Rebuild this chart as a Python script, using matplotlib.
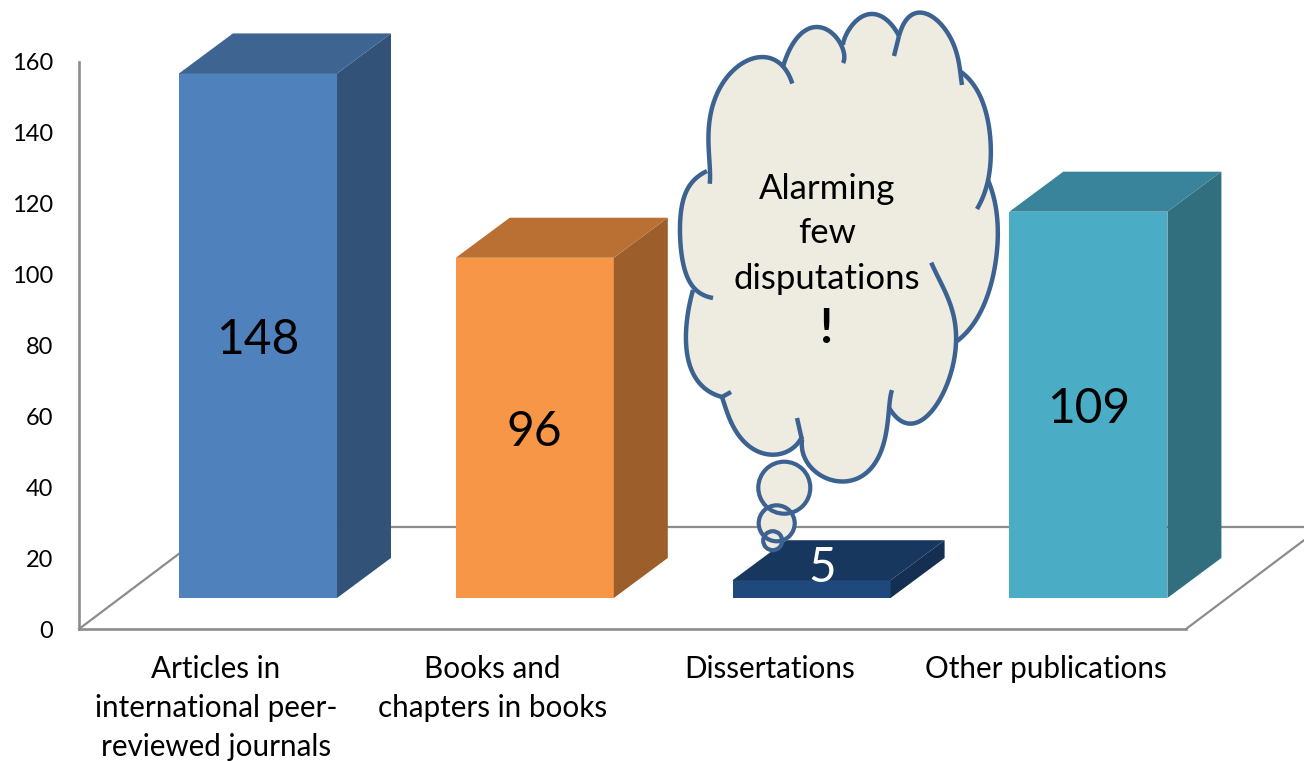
import numpy as np
import matplotlib
matplotlib.use('Agg')
import matplotlib.pyplot as plt
from matplotlib.path import Path
from matplotlib.patches import PathPatch, Circle
from matplotlib.transforms import Affine2D

plt.rcParams['font.family'] = ['Lato', 'DejaVu Sans']

#datos
categorias = ['Articles in\ninternational peer-\nreviewed journals',
              'Books and\nchapters in books',
              'Dissertations',
              'Other publications']
valores = [148, 96, 5, 109]
yticks = [0, 20, 40, 60, 80, 100, 120, 140, 160]
col_frente = ['#4F81BD', '#F79646', '#1F497D', '#4BACC6']
col_lado = ['#325278', '#9C5E2B', '#142F52', '#316E7E']
col_tapa = ['#3E6491', '#BA7032', '#17375E', '#39849A']

#geometria de la vista 3D, en unidades de los ejes
ancho = 0.571
dx = 0.195
dy = 11.3
base = 8.75
fondo_y = 28.8
fondo_x = 0.49

W, H = 1304, 761
fig = plt.figure(figsize=(W/100, H/100), dpi=100)
ax = fig.add_axes([0, 0, 1, 1])
ax.patch.set_visible(False)
ax.set_xlim((0-258)/276.8, (W-258)/276.8)
ax.set_ylim((629-H)/3.544, 629/3.544)

gris = '#8C8C8C'
xizq = (79-258)/276.8
xder = (1186-258)/276.8

#piso
ax.plot([xizq, xizq+fondo_x], [0, fondo_y], color=gris, lw=1.6, zorder=1)
ax.plot([xder, xder+fondo_x], [0, fondo_y], color=gris, lw=1.6, zorder=1)
ax.plot([xizq+fondo_x, 4], [fondo_y, fondo_y], color=gris, lw=1.6, zorder=1)

#barras
for i, v in enumerate(valores):
    x0 = i-ancho/2
    x1 = i+ancho/2
    top = base+v
    ax.bar(i, v, width=ancho, bottom=base, color=col_frente[i], zorder=3)
    ax.fill([x1, x1+dx, x1+dx, x1], [base, base+dy, top+dy, top],
            color=col_lado[i], lw=0, zorder=3)
    ax.fill([x0, x0+dx, x1+dx, x1], [top, top+dy, top+dy, top],
            color=col_tapa[i], lw=0, zorder=3)

#etiquetas de valor
for i, v in enumerate(valores):
    if v < 10:
        ax.text(i+0.04, base+v/2+6.0, str(v), color='white', fontsize=34.5,
                ha='center', va='center', zorder=8)
    else:
        ax.text(i, base+v/2-1.1, str(v), color='black', fontsize=34.5,
                ha='center', va='center', zorder=8)

#ejes
for lado in ['top', 'right']:
    ax.spines[lado].set_visible(False)
ax.spines['left'].set_position(('data', xizq))
ax.spines['bottom'].set_position(('data', 0))
ax.spines['left'].set_bounds(0, 160)
ax.spines['bottom'].set_bounds(xizq, xder)
for lado in ['left', 'bottom']:
    ax.spines[lado].set_color(gris)
    ax.spines[lado].set_linewidth(1.9)
ax.set_yticks(yticks)
ax.set_xticks(np.arange(4)-0.152)
ax.set_xticklabels(categorias, linespacing=1.46)
ax.tick_params(axis='y', length=0, pad=18.5, labelsize=17)
ax.tick_params(axis='x', length=0, pad=19, labelsize=21.3)

#nube, en pixeles de la imagen
px = Affine2D().scale(1, -1).translate(0, H)
borde = '#3B6291'
crema = '#EEECE1'

lobulos = [
    [(710, 184), (708, 150), (713, 110), (735, 68), (757, 55), (775, 62), (792, 83)],
    [(783, 67), (797, 38), (817, 27), (835, 36), (843, 63)],
    [(843, 45), (855, 22), (873, 14), (889, 22), (899, 36)],
    [(894, 56), (899, 36)],
    [(899, 36), (927, 14), (947, 32), (960, 70), (962, 85)],
    [(961, 72), (976, 88), (985, 110), (991, 150), (988, 180), (977, 209)],
    [(988, 180), (996, 210), (998, 240), (988, 293), (975, 322), (957, 341)],
    [(931, 263), (947, 293), (955, 340), (943, 393), (913, 426), (900, 420), (890, 408)],
    [(892, 390), (887, 427), (870, 468), (843, 484), (818, 472), (802, 440)],
    [(802, 440), (797, 418)],
    [(802, 437), (790, 449), (772, 456), (750, 446), (730, 420), (722, 397)],
    [(731, 392), (722, 397)],
    [(722, 397), (697, 380), (686, 333), (693, 290)],
    [(713, 298), (695, 289), (680, 233), (687, 190), (707, 171)],
]


def curva(puntos):
    #curva suave ajustada a los puntos leidos
    p = np.array(puntos, dtype=float)
    t = np.r_[0, np.cumsum(np.hypot(*np.diff(p, axis=0).T))]
    t = t/t[-1]
    grado = min(len(p)-1, 4)
    s = np.linspace(0, 1, 80)
    xs = np.polyval(np.polyfit(t, p[:, 0], grado), s)
    ys = np.polyval(np.polyfit(t, p[:, 1], grado), s)
    return np.column_stack([xs, ys])


curvas = [curva(lob) for lob in lobulos]
ax.add_patch(plt.Polygon(np.vstack(curvas), closed=True, fc=crema, ec='none', transform=px, zorder=5))
for c in curvas:
    ax.add_patch(plt.Polygon(c, closed=True, fc=crema, ec='none', transform=px, zorder=5))
for c in curvas:
    ax.add_patch(PathPatch(Path(c), fc='none', ec=borde, lw=3.2, transform=px,
                           zorder=6, capstyle='butt'))

burbujas = [(784.3, 487.7, 26), (776.7, 523.3, 18), (772.7, 540.7, 9.5)]
for cx, cy, r in burbujas:
    ax.add_patch(Circle((cx, cy), r, fc=crema, ec='none', transform=px, zorder=5))
for cx, cy, r in burbujas:
    ax.add_patch(Circle((cx, cy), r, fc='none', ec=borde, lw=3.0, transform=px, zorder=6))

ax.text(827, 189, 'Alarming', fontsize=25, ha='center', va='center', transform=px, zorder=9)
ax.text(827, 233, 'few', fontsize=25, ha='center', va='center', transform=px, zorder=9)
ax.text(827, 279, 'disputations', fontsize=25, ha='center', va='center', transform=px, zorder=9)
ax.text(827, 329, '!', fontsize=34, fontweight='bold', ha='center', va='center', transform=px, zorder=9)

plt.savefig('out.png', dpi=100)
